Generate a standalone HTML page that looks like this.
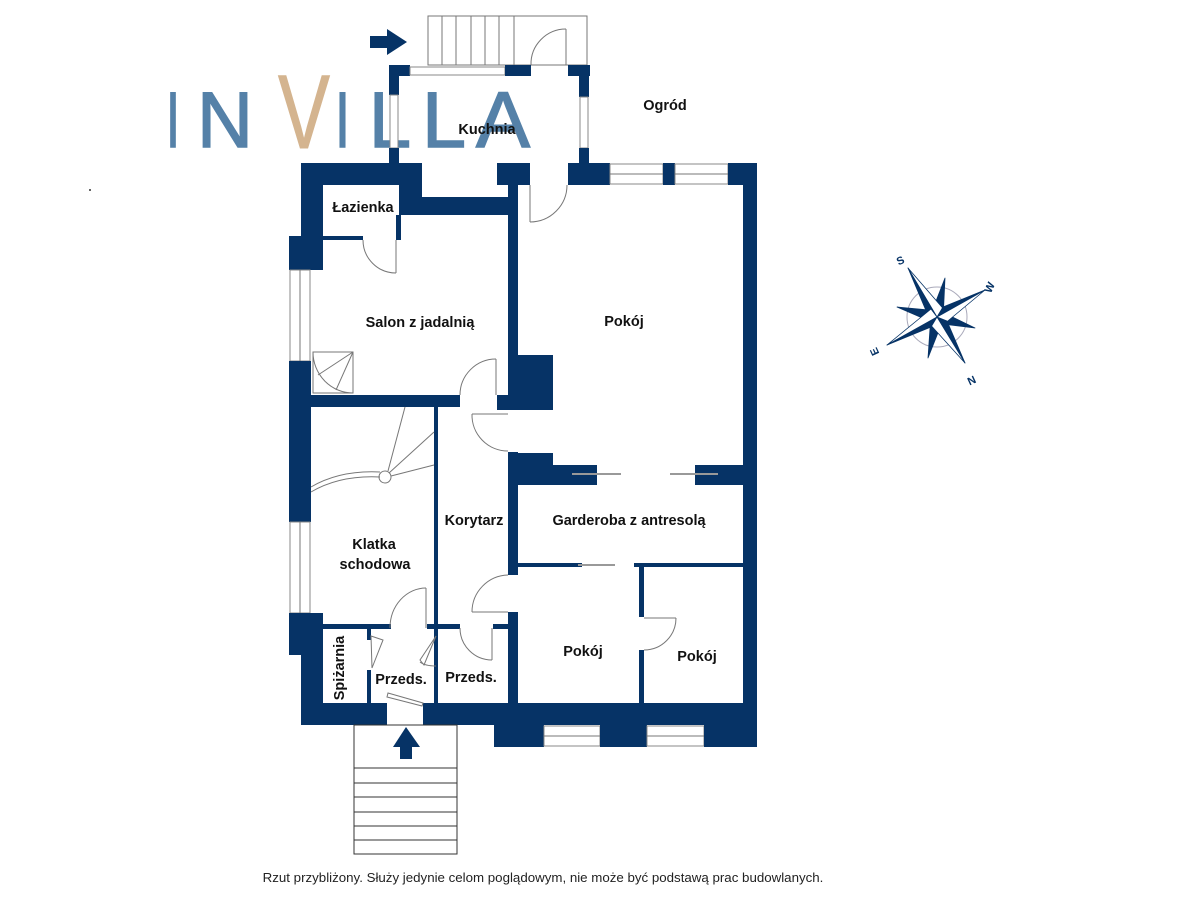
<!DOCTYPE html>
<html><head><meta charset="utf-8"><style>
html,body{margin:0;padding:0;background:#fff;}
svg{display:block}
.t{font-family:"Liberation Sans","DejaVu Sans",sans-serif;font-weight:bold;font-size:14.5px;fill:#111;text-anchor:middle}
.g{fill:none;stroke:#777;stroke-width:1}
.w{fill:#063366}
.win{fill:#fff;stroke:#888;stroke-width:1}
.logo{font-family:"Liberation Sans",sans-serif;fill:#5581a8;stroke:#5581a8;stroke-width:1.5;stroke-linejoin:miter}
</style></head><body>
<svg width="1200" height="900" viewBox="0 0 1200 900" xmlns="http://www.w3.org/2000/svg">
<rect width="1200" height="900" fill="#fff"/>

<rect x="428" y="16" width="159" height="49" class="g"/>
<g class="g"><line x1="442" y1="16" x2="442" y2="65"/><line x1="456" y1="16" x2="456" y2="65"/><line x1="471" y1="16" x2="471" y2="65"/><line x1="485" y1="16" x2="485" y2="65"/><line x1="499" y1="16" x2="499" y2="65"/><line x1="514" y1="16" x2="514" y2="65"/></g>
<polygon points="370,36 387,36 387,29 407,42 387,55 387,48 370,48" class="w"/>

<g class="logo" font-size="79">
<text x="166" y="147" textLength="14" lengthAdjust="spacingAndGlyphs">I</text>
<text x="197" y="147" textLength="56" lengthAdjust="spacingAndGlyphs">N</text>
<text x="335" y="147" textLength="15" lengthAdjust="spacingAndGlyphs">I</text>
<text x="369" y="147" textLength="42" lengthAdjust="spacingAndGlyphs">L</text>
<text x="422" y="147" textLength="44" lengthAdjust="spacingAndGlyphs">L</text>
<text x="476" y="147" textLength="54" lengthAdjust="spacingAndGlyphs">A</text>
</g>
<text x="278" y="148" font-family="Liberation Sans,sans-serif" font-size="105" fill="#d4b48f" stroke="#d4b48f" stroke-width="1" textLength="52" lengthAdjust="spacingAndGlyphs">V</text>

<rect x="389" y="65" width="21" height="11" class="w"/>
<rect x="410" y="67" width="95" height="8" class="win"/>
<rect x="505" y="65" width="26" height="11" class="w"/>
<rect x="568" y="65" width="22" height="11" class="w"/>
<rect x="389" y="65" width="10" height="30" class="w"/>
<rect x="390" y="95" width="8" height="53" class="win"/>
<rect x="389" y="148" width="10" height="20" class="w"/>
<rect x="579" y="65" width="10" height="32" class="w"/>
<rect x="580" y="97" width="8" height="51" class="win"/>
<rect x="579" y="148" width="10" height="20" class="w"/>
<line x1="566" y1="29" x2="566" y2="65" class="g"/>
<path d="M531,65 A35,35 0 0 1 566,29" class="g"/>

<rect x="301" y="163" width="121" height="22" class="w"/>
<rect x="399" y="163" width="23" height="52" class="w"/>
<rect x="399" y="197" width="119" height="18" class="w"/>
<rect x="497" y="163" width="33" height="22" class="w"/>
<rect x="568" y="163" width="42" height="22" class="w"/>
<rect x="610" y="164" width="53" height="20" class="win"/>
<line x1="610" y1="174" x2="663" y2="174" class="g"/>
<rect x="663" y="163" width="12" height="22" class="w"/>
<rect x="675" y="164" width="53" height="20" class="win"/>
<line x1="675" y1="174" x2="728" y2="174" class="g"/>
<rect x="728" y="163" width="29" height="22" class="w"/>
<rect x="743" y="163" width="14" height="584" class="w"/>
<line x1="530" y1="185" x2="530" y2="222" class="g"/>
<path d="M530,222 A37,37 0 0 0 567,185" class="g"/>

<rect x="301" y="163" width="22" height="107" class="w"/>
<rect x="289" y="236" width="34" height="34" class="w"/>
<rect x="323" y="236" width="40" height="4" class="w"/>
<rect x="396" y="215" width="5" height="25" class="w"/>
<rect x="290" y="270" width="20" height="91" class="win"/>
<line x1="300" y1="270" x2="300" y2="361" class="g"/>
<rect x="289" y="361" width="22" height="161" class="w"/>
<rect x="290" y="522" width="20" height="91" class="win"/>
<line x1="300" y1="522" x2="300" y2="613" class="g"/>
<rect x="289" y="613" width="22" height="42" class="w"/>
<rect x="301" y="613" width="22" height="112" class="w"/>
<line x1="396" y1="240" x2="396" y2="273" class="g"/>
<path d="M363,240 A33,33 0 0 0 396,273" class="g"/>

<rect x="508" y="185" width="10" height="225" class="w"/>
<rect x="311" y="395" width="149" height="12" class="w"/>
<rect x="497" y="395" width="21" height="15" class="w"/>
<rect x="518" y="355" width="35" height="55" class="w"/>
<rect x="313" y="352" width="40" height="41" class="g"/>
<path d="M313,352 A40,41 0 0 0 353,393" class="g"/>
<line x1="353" y1="352" x2="318" y2="375" class="g"/>
<line x1="353" y1="352" x2="336" y2="390" class="g"/>
<line x1="496" y1="359" x2="496" y2="395" class="g"/>
<path d="M460,395 A36,36 0 0 1 496,359" class="g"/>

<rect x="434" y="407" width="4" height="296" class="w"/>
<rect x="508" y="452" width="10" height="123" class="w"/>
<rect x="508" y="612" width="10" height="113" class="w"/>
<line x1="472" y1="414" x2="508" y2="414" class="g"/>
<path d="M472,414 A36,36 0 0 0 508,451" class="g"/>
<line x1="472" y1="612" x2="508" y2="612" class="g"/>
<path d="M508,575 A37,37 0 0 0 472,612" class="g"/>

<path d="M311,492 Q340,475 380,477" class="g"/>
<path d="M311,487 Q340,470 380,472" class="g"/>
<circle cx="385" cy="477" r="6" class="g"/>
<line x1="388" y1="471" x2="405" y2="407" class="g"/>
<line x1="389" y1="473" x2="434" y2="432" class="g"/>
<line x1="391" y1="476" x2="434" y2="465" class="g"/>

<rect x="518" y="453" width="35" height="32" class="w"/>
<rect x="553" y="465" width="44" height="20" class="w"/>
<rect x="695" y="465" width="48" height="20" class="w"/>
<line x1="572" y1="474" x2="621" y2="474" stroke="#999" stroke-width="2"/>
<line x1="670" y1="474" x2="718" y2="474" stroke="#999" stroke-width="2"/>
<rect x="518" y="563" width="64" height="4" class="w"/>
<rect x="634" y="563" width="109" height="4" class="w"/>
<line x1="578" y1="565" x2="615" y2="565" stroke="#999" stroke-width="2"/>
<rect x="639" y="567" width="5" height="50" class="w"/>
<rect x="639" y="650" width="5" height="75" class="w"/>
<line x1="644" y1="618" x2="676" y2="618" class="g"/>
<path d="M676,618 A32,32 0 0 1 644,650" class="g"/>

<rect x="323" y="624" width="68" height="5" class="w"/>
<rect x="427" y="624" width="33" height="5" class="w"/>
<rect x="493" y="624" width="15" height="5" class="w"/>
<rect x="367" y="628" width="4" height="12" class="w"/>
<rect x="367" y="670" width="4" height="33" class="w"/>
<rect x="434" y="628" width="4" height="8" class="w"/>
<rect x="434" y="666" width="4" height="37" class="w"/>
<line x1="426" y1="588" x2="426" y2="628" class="g"/>
<path d="M390,628 A36,40 0 0 1 426,588" class="g"/>
<line x1="492" y1="628" x2="492" y2="660" class="g"/>
<path d="M460,628 A32,32 0 0 0 492,660" class="g"/>
<polygon points="371,636 383,640 372,668" class="g"/>
<polygon points="436,636 420,660 424,665" class="g"/>
<path d="M420,662 Q425,666 436,666" class="g"/>

<rect x="301" y="703" width="86" height="22" class="w"/>
<rect x="423" y="703" width="95" height="22" class="w"/>
<polygon points="388,693 423,703 422,706 387,697" class="g"/>
<rect x="494" y="725" width="50" height="22" class="w"/>
<rect x="518" y="703" width="225" height="22" class="w"/>
<rect x="544" y="726" width="56" height="20" class="win"/>
<line x1="544" y1="736" x2="600" y2="736" class="g"/>
<rect x="600" y="725" width="47" height="22" class="w"/>
<rect x="647" y="726" width="57" height="20" class="win"/>
<line x1="647" y1="736" x2="704" y2="736" class="g"/>
<rect x="704" y="725" width="53" height="22" class="w"/>

<rect x="354" y="725" width="103" height="129" fill="none" stroke="#333" stroke-width="1"/>
<g stroke="#333" stroke-width="1"><line x1="354" y1="768" x2="457" y2="768"/><line x1="354" y1="783" x2="457" y2="783"/><line x1="354" y1="797" x2="457" y2="797"/><line x1="354" y1="812" x2="457" y2="812"/><line x1="354" y1="826" x2="457" y2="826"/><line x1="354" y1="840" x2="457" y2="840"/></g>
<polygon points="406,727 420,747 412,747 412,759 400,759 400,747 393,747" class="w"/>

<text class="t" x="487" y="134">Kuchnia</text>
<text class="t" x="665" y="110">Ogród</text>
<text class="t" x="363" y="212">Łazienka</text>
<text class="t" x="420" y="327">Salon z jadalnią</text>
<text class="t" x="624" y="326">Pokój</text>
<text class="t" x="474" y="525">Korytarz</text>
<text class="t" x="629" y="525">Garderoba z antresolą</text>
<text class="t" x="374" y="549">Klatka</text>
<text class="t" x="375" y="569">schodowa</text>
<text class="t" x="583" y="656">Pokój</text>
<text class="t" x="697" y="661">Pokój</text>
<text class="t" x="401" y="684">Przeds.</text>
<text class="t" x="471" y="682">Przeds.</text>
<text class="t" transform="translate(344,668) rotate(-90)">Spiżarnia</text>

<g transform="translate(937,317)">
<circle r="30" fill="none" stroke="#aab" stroke-width="1"/>
<g fill="#063366" stroke="#063366" stroke-width="0.8" stroke-linejoin="round">
<polygon points="8,-39 -6,-3 6,3"/><polygon points="38,11 3,-6 -3,6"/>
<polygon points="-9,41 -6,-3 6,3"/><polygon points="-40,-10 3,-6 -3,6"/>
<polygon points="-29,-49 -10,-4 0,0"/><polygon points="-29,-49 10,-4 0,0" fill="#fff"/>
<polygon points="48,-27 6,-10 0,0"/><polygon points="48,-27 6,8 0,0" fill="#fff"/>
<polygon points="28,46 10,4 0,0"/><polygon points="28,46 -10,4 0,0" fill="#fff"/>
<polygon points="-50,28 -6,10 0,0"/><polygon points="-50,28 -6,-8 0,0" fill="#fff"/>
</g>
</g>
<g font-family="Liberation Sans,sans-serif" font-weight="bold" font-size="11" fill="#063366" text-anchor="middle">
<text transform="translate(902,264) rotate(-25)">S</text>
<text transform="translate(993,289) rotate(-65)">W</text>
<text transform="translate(878,350) rotate(-115)">E</text>
<text transform="translate(970,377) rotate(155)">N</text>
</g>

<circle cx="90" cy="190" r="1" fill="#333"/>
<text x="543" y="882" font-family="Liberation Sans,sans-serif" font-size="13.3" fill="#222" text-anchor="middle">Rzut przybliżony. Służy jedynie celom poglądowym, nie może być podstawą prac budowlanych.</text>
</svg>
</body></html>
